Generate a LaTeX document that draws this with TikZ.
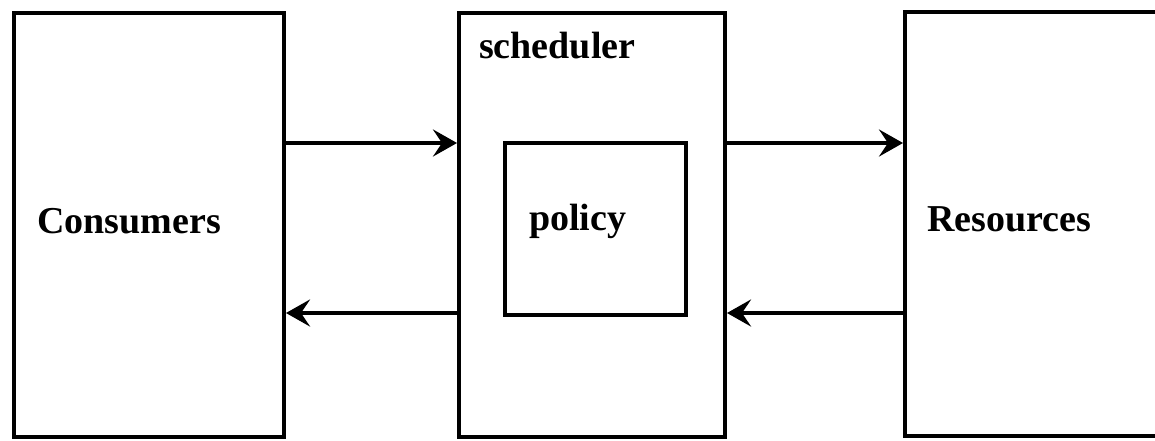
\documentclass[tikz,border=0pt]{standalone}
\usepackage{fontspec}
\setmainfont{Liberation Serif}
\usetikzlibrary{arrows.meta}
\begin{document}
\begin{tikzpicture}[x=1pt,y=-1pt,
  box/.style={draw,line width=4pt,minimum width=#1,inner sep=0pt,minimum height=424pt},
  lbl/.style={anchor=west,inner sep=0pt,font=\fontsize{38}{42}\selectfont\bfseries},
  flow/.style={line width=4pt,-{Stealth[length=24pt,width=27pt,inset=9pt]}}]
\clip (0,0) rectangle (1155,440);
\useasboundingbox (0,0) rectangle (1155,440);
\node[box=270pt] (cons) at (149,225) {};
\node[box=266pt] (sched) at (592,225) {};
\node[draw,line width=4pt,minimum width=181pt,minimum height=172pt,inner sep=0pt] (pol) at (595.5,229) {};
\node[box=260pt] (res) at (1035,224) {};
\node[lbl] (tcons) at (37,221) {Consumers};
\node[lbl] (tsched) at (479,46) {scheduler};
\node[lbl] (tpol) at (529,221) {policy};
\node[lbl] (tres) at (927,219) {Resources};
\coordinate (ya) at (0,143);
\coordinate (yb) at (0,313);
\draw[flow] (cons.east |- ya) -- (sched.west |- ya);
\draw[flow] (sched.west |- yb) -- (cons.east |- yb);
\draw[flow] (sched.east |- ya) -- (res.west |- ya);
\draw[flow] (res.west |- yb) -- (sched.east |- yb);
\end{tikzpicture}
\end{document}
